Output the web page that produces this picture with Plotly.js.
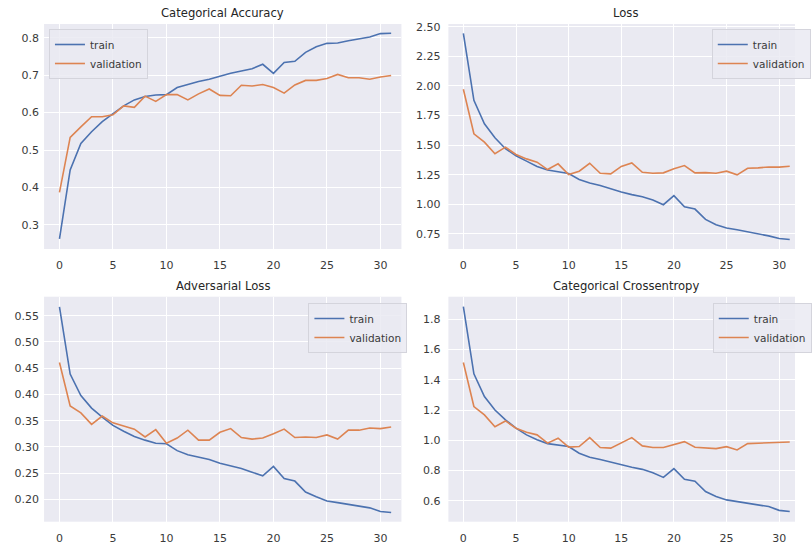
<!DOCTYPE html>
<html>
<head>
<meta charset="utf-8">
<script src="https://cdn.plot.ly/plotly-3.0.1.min.js"></script>
<style>html,body{margin:0;padding:0;background:#fff;}#chart{width:812px;height:544px;}</style>
</head>
<body>
<div id="chart"></div>
<script>
// ---- data ----
const epochs = [0,1,2,3,4,5,6,7,8,9,10,11,12,13,14,15,16,17,18,19,20,21,22,23,24,25,26,27,28,29,30,31];
const seriesNames = ["train", "validation"];
const panelTitles = ["Categorical Accuracy", "Loss", "Adversarial Loss", "Categorical Crossentropy"];

const accTrain = [0.263,0.447,0.518,0.549,0.576,0.598,0.618,0.634,0.643,0.647,0.648,0.667,0.676,0.683,0.689,0.698,0.705,0.711,0.717,0.729,0.705,0.734,0.737,0.761,0.776,0.785,0.786,0.792,0.796,0.802,0.811,0.812];
const accVal   = [0.387,0.534,0.562,0.589,0.589,0.594,0.618,0.614,0.644,0.630,0.648,0.648,0.634,0.650,0.663,0.646,0.645,0.673,0.671,0.675,0.667,0.652,0.674,0.686,0.686,0.691,0.702,0.693,0.693,0.689,0.695,0.699];

const lossTrain = [2.444,1.879,1.680,1.563,1.470,1.410,1.365,1.320,1.290,1.275,1.260,1.210,1.180,1.160,1.130,1.105,1.082,1.065,1.037,0.997,1.073,0.980,0.960,0.873,0.828,0.800,0.785,0.768,0.754,0.734,0.712,0.703];
const lossVal   = [1.972,1.596,1.525,1.427,1.483,1.421,1.384,1.356,1.294,1.342,1.251,1.280,1.347,1.263,1.257,1.320,1.350,1.271,1.263,1.266,1.300,1.328,1.266,1.268,1.263,1.280,1.249,1.305,1.308,1.316,1.314,1.322];

const advTrain = [0.567,0.439,0.398,0.374,0.357,0.341,0.330,0.320,0.313,0.307,0.306,0.293,0.285,0.281,0.276,0.269,0.264,0.259,0.252,0.245,0.263,0.240,0.235,0.214,0.205,0.197,0.194,0.191,0.188,0.184,0.177,0.175];
const advVal   = [0.461,0.378,0.365,0.343,0.359,0.346,0.340,0.334,0.319,0.333,0.307,0.317,0.332,0.313,0.313,0.328,0.335,0.318,0.315,0.317,0.325,0.334,0.318,0.319,0.318,0.323,0.315,0.332,0.332,0.336,0.335,0.338];

const ceTrain = [1.884,1.439,1.289,1.200,1.135,1.080,1.036,1.003,0.978,0.967,0.959,0.915,0.888,0.873,0.855,0.838,0.822,0.808,0.786,0.755,0.813,0.742,0.729,0.661,0.628,0.606,0.595,0.582,0.575,0.562,0.537,0.529];
const ceVal   = [1.514,1.223,1.168,1.090,1.128,1.080,1.053,1.036,0.981,1.014,0.955,0.959,1.018,0.952,0.948,0.985,1.018,0.963,0.952,0.952,0.974,0.991,0.954,0.952,0.945,0.958,0.936,0.978,0.980,0.985,0.985,0.989];

// ---- styling ----
const BLUE = "#4C72B0", ORANGE = "#DD8452";
const FONT = "DejaVu Sans";
const TXT = "#3a3a3a";
const panels = [
  {train: accTrain,  val: accVal,  title: panelTitles[0]},
  {train: lossTrain, val: lossVal, title: panelTitles[1]},
  {train: advTrain,  val: advVal,  title: panelTitles[2]},
  {train: ceTrain,   val: ceVal,   title: panelTitles[3]}
];

const W = 812, H = 544;
const xDom = [[45/W, 410/W], [458/W, 1], [45/W, 410/W], [458/W, 1]];
const yDom = [[1-249/H, 1-24/H], [1-249/H, 1-24/H], [1-521.7/H, 1-296.7/H], [1-521.7/H, 1-296.7/H]];
const xRng = [[-1.44, 31.96], [-1.42, 31.5], [-1.44, 31.96], [-1.42, 31.5]];
const yRng = [[0.2359, 0.8366], [0.623, 2.523], [0.1576, 0.5863], [0.462, 1.949]];
const yDt  = [0.1, 0.25, 0.05, 0.2];
const yFmt = [".1f", ".2f", ".2f", ".1f"];
const yStand = [4, 7, 4, 7];
const legPos = [[50/W, 1-29/H], [727/W, 1-29/H], [315/W, 1-303/H], [728/W, 1-303/H]];
const titleX = [227.5/W, 639/W, 227.5/W, 639/W];

const traces = [];
const layout = {
  width: W, height: H,
  margin: {l: 0, r: 0, t: 0, b: 0},
  paper_bgcolor: "#ffffff",
  plot_bgcolor: "#EAEAF2",
  font: {family: FONT, size: 11, color: TXT},
  annotations: [],
  showlegend: true
};

panels.forEach((p, i) => {
  const n = i + 1;
  const xa = n === 1 ? "x" : "x" + n;
  const ya = n === 1 ? "y" : "y" + n;
  const lg = n === 1 ? "legend" : "legend" + n;
  traces.push({x: epochs, y: p.train, type: "scatter", mode: "lines", name: seriesNames[0],
    line: {color: BLUE, width: 1.6}, xaxis: xa, yaxis: ya, legend: lg});
  traces.push({x: epochs, y: p.val, type: "scatter", mode: "lines", name: seriesNames[1],
    line: {color: ORANGE, width: 1.6}, xaxis: xa, yaxis: ya, legend: lg});
  const xKey = n === 1 ? "xaxis" : "xaxis" + n;
  const yKey = n === 1 ? "yaxis" : "yaxis" + n;
  layout[xKey] = {
    domain: xDom[i], range: xRng[i], anchor: ya,
    dtick: 5, tick0: 0, showgrid: true, gridcolor: "#ffffff", gridwidth: 1,
    zeroline: false, showline: false, ticks: "", ticklabelstandoff: 8,
    tickfont: {family: FONT, size: 11, color: TXT}
  };
  layout[yKey] = {
    domain: yDom[i], range: yRng[i], anchor: xa,
    dtick: yDt[i], tick0: 0, tickformat: yFmt[i], showgrid: true, gridcolor: "#ffffff", gridwidth: 1,
    zeroline: false, showline: false, ticks: "", ticklabelstandoff: yStand[i],
    tickfont: {family: FONT, size: 11, color: TXT}
  };
  layout[lg] = {
    x: legPos[i][0], y: legPos[i][1], xanchor: "left", yanchor: "top",
    xref: "paper", yref: "paper",
    bgcolor: "rgba(234,234,242,0.85)", bordercolor: "#d4d4dc", borderwidth: 1,
    font: {family: FONT, size: 10.5, color: TXT},
    itemwidth: 30, tracegroupgap: 0
  };
  layout.annotations.push({
    text: p.title, xref: "paper", yref: "paper",
    x: titleX[i], xanchor: "center",
    y: yDom[i][1], yanchor: "bottom", yshift: 2, showarrow: false,
    font: {family: FONT, size: 11.6, color: "#262626"}
  });
});

Plotly.newPlot("chart", traces, layout, {staticPlot: true, displayModeBar: false});
</script>
</body>
</html>
